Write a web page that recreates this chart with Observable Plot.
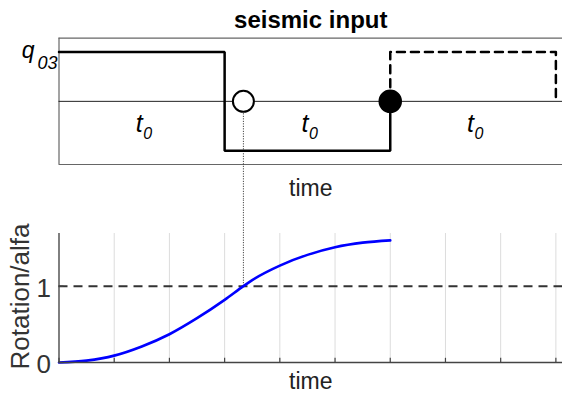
<!DOCTYPE html>
<html>
<head>
<meta charset="utf-8">
<script src="https://cdn.jsdelivr.net/npm/d3@7"></script>
<script src="https://cdn.jsdelivr.net/npm/@observablehq/plot@0.6"></script>
<style>
  html, body { margin: 0; padding: 0; background: #fff; }
  #chart svg { display: block; }
</style>
</head>
<body>
<div id="chart"></div>
<script>
// Seismic input: a rectangular pulse +q03 then -q03, each lasting t0,
// followed by a dashed third pulse.
const pulseTime = [0, 3, 3, 6, 6];
const pulseLevel = [1, 1, -1, -1, 0];
const nextPulseTime = [6, 6, 9, 9];
const nextPulseLevel = [0, 1, 1, 0];
const intervalMid = [1.5, 4.5, 7.5];
const crossTime = 3.34;      // time at which rotation/alfa reaches 1
const pulseEndTime = 6;

// Rotation response normalised by alfa
const rotTime  = [0, 0.5, 1, 1.5, 2, 2.5, 3, 3.34, 3.5, 4, 4.5, 5, 5.5, 6];
const rotValue = [0, 0.025, 0.09, 0.21, 0.37, 0.58, 0.82, 1.0, 1.08, 1.27, 1.41, 1.51, 1.57, 1.60];

const gridTime = [0, 1, 2, 3, 4, 5, 6, 7, 8, 9];
const rotTicks = [0, 1];
const rotThreshold = 1;

const font = "'Liberation Sans', Arial, Helvetica, sans-serif";
const W = 562;
const xDomain = [0, 9.12];
const yTopDomain = [-1.28, 1.28];
const yBotDomain = [0, 1.69];

const pulse = pulseTime.map((t, i) => ({t, v: pulseLevel[i]}));
const nextPulse = nextPulseTime.map((t, i) => ({t, v: nextPulseLevel[i]}));
const rotation = rotTime.map((t, i) => ({t, r: rotValue[i]}));

const inputPanel = Plot.plot({
  width: W, height: 200,
  marginLeft: 58.5, marginRight: 0, marginTop: 37.7, marginBottom: 36,
  style: {fontFamily: font, background: "#fff", color: "#000"},
  x: {domain: xDomain, axis: null},
  y: {domain: yTopDomain, axis: null},
  marks: [
    // axes box (its right side lies beyond the visible width)
    Plot.ruleY(yTopDomain, {stroke: "#666", strokeWidth: 1.2}),
    Plot.ruleX([0], {stroke: "#666", strokeWidth: 1.2}),
    Plot.ruleY([0], {stroke: "#222", strokeWidth: 1}),
    // link to the response panel below
    Plot.ruleX([crossTime], {y1: 0, y2: -4, stroke: "#222", strokeWidth: 1, strokeDasharray: "1,1.5"}),
    Plot.line(pulse, {x: "t", y: "v", stroke: "#000", strokeWidth: 2.5, strokeLinejoin: "miter"}),
    Plot.line(nextPulse, {x: "t", y: "v", stroke: "#000", strokeWidth: 2.5, strokeDasharray: "8,6"}),
    Plot.dot([crossTime], {x: d => d, y: 0, r: 10.5, fill: "#fff", stroke: "#000", strokeWidth: 2}),
    Plot.dot([pulseEndTime], {x: d => d, y: 0, r: 11, fill: "#000", stroke: "#000"}),
    // t0 labels for each interval
    Plot.text(intervalMid, {x: d => d, y: 0, text: () => "t", fontStyle: "italic", fontSize: 25,
      textAnchor: "end", lineAnchor: "bottom", dx: 1, dy: 31, fill: "#000"}),
    Plot.text(intervalMid, {x: d => d, y: 0, text: () => "0", fontStyle: "italic", fontSize: 16,
      textAnchor: "start", lineAnchor: "bottom", dx: 1.5, dy: 38, fill: "#000"}),
    // q03 amplitude label
    Plot.text([1], {x: 0, y: d => d, text: () => "q", fontStyle: "italic", fontSize: 23,
      textAnchor: "end", lineAnchor: "bottom", dx: -24.5, dy: 5.5, fill: "#000"}),
    Plot.text([1], {x: 0, y: d => d, text: () => "03", fontStyle: "italic", fontSize: 18,
      textAnchor: "end", lineAnchor: "bottom", dx: -1.5, dy: 16.5, fill: "#000"}),
    Plot.text(["seismic input"], {frameAnchor: "top", lineAnchor: "bottom", dy: -10.7,
      fontWeight: "bold", fontSize: 24, fill: "#000"}),
    Plot.text(["time"], {frameAnchor: "bottom", lineAnchor: "bottom", dy: 31, fontSize: 23, fill: "#222"})
  ]
});

const responsePanel = Plot.plot({
  width: W, height: 196,
  marginLeft: 58.5, marginRight: 0, marginTop: 33, marginBottom: 34,
  style: {fontFamily: font, background: "#fff", color: "#000"},
  x: {domain: xDomain, axis: null},
  y: {domain: yBotDomain, axis: null},
  marks: [
    Plot.ruleX(gridTime, {stroke: "#dcdcdc", strokeWidth: 1}),
    Plot.ruleY([rotThreshold], {stroke: "#333", strokeWidth: 2, strokeDasharray: "9,6"}),
    Plot.ruleX([crossTime], {y1: rotThreshold, y2: 4, stroke: "#222", strokeWidth: 1, strokeDasharray: "1,1.5"}),
    Plot.line(rotation, {x: "t", y: "r", stroke: "#0000ff", strokeWidth: 2.6, curve: "monotone-x"}),
    // axis lines and inward ticks
    Plot.ruleY([0], {stroke: "#444", strokeWidth: 1.3}),
    Plot.ruleX([0], {stroke: "#444", strokeWidth: 1.3}),
    Plot.ruleX(gridTime, {y1: 0, y2: 0.055, stroke: "#444", strokeWidth: 1.2}),
    Plot.ruleY(rotTicks, {x1: 0, x2: 0.09, stroke: "#444", strokeWidth: 1.2}),
    Plot.text(rotTicks, {x: 0, y: d => d, text: d => String(d), textAnchor: "end",
      lineAnchor: "middle", dx: -8, dy: 2.5, fontSize: 26, fill: "#333"}),
    Plot.text(["Rotation/alfa"], {frameAnchor: "left", rotate: -90, textAnchor: "middle",
      lineAnchor: "middle", dx: -38.5, dy: -1.5, fontSize: 26, fill: "#333"}),
    Plot.text(["time"], {frameAnchor: "bottom", lineAnchor: "bottom", dy: 26, fontSize: 23, fill: "#222"})
  ]
});

document.getElementById("chart").append(inputPanel, responsePanel);
</script>
</body>
</html>
